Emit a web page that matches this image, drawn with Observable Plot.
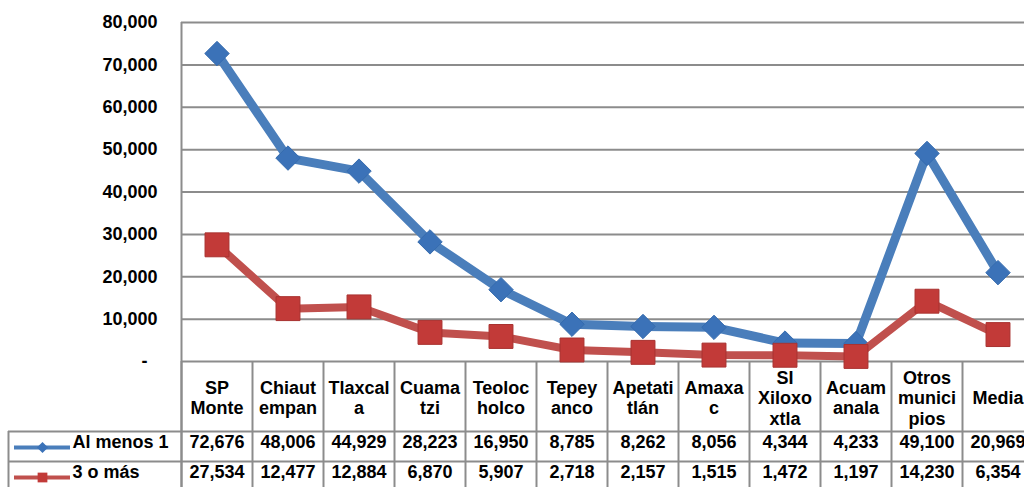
<!DOCTYPE html>
<html>
<head>
<meta charset="utf-8">
<script src="https://cdn.jsdelivr.net/npm/d3@7"></script>
<script src="https://cdn.jsdelivr.net/npm/@observablehq/plot@0.6"></script>
<style>
  html, body { margin: 0; padding: 0; background: #fff; overflow: hidden; }
  #chart { width: 1024px; height: 487px; overflow: hidden; }
</style>
</head>
<body>
<div id="chart"></div>
<script>
// ---- data ----
const categories = ["SP Monte", "Chiautempan", "Tlaxcala", "Cuamatzi", "Teolocholco", "Tepeyanco",
  "Apetatitlán", "Amaxac", "SI Xiloxoxtla", "Acuamanala", "Otros municipios", "Media"];
const headerLabels = ["SP\nMonte", "Chiaut\nempan", "Tlaxcal\na", "Cuama\ntzi", "Teoloc\nholco", "Tepey\nanco",
  "Apetati\ntlán", "Amaxa\nc", "SI\nXiloxo\nxtla", "Acuam\nanala", "Otros\nmunici\npios", "Media"];
const seriesNames = ["Al menos 1", "3 o más"];
const alMenos1 = [72676, 48006, 44929, 28223, 16950, 8785, 8262, 8056, 4344, 4233, 49100, 20969];
const tresOMas = [27534, 12477, 12884, 6870, 5907, 2718, 2157, 1515, 1472, 1197, 14230, 6354];
const yTicks = [0, 10000, 20000, 30000, 40000, 50000, 60000, 70000, 80000];

// ---- styling / layout ----
const blue = "#4a7ebb", blueMark = "#3b72b8";
const red = "#c0504d", redMark = "#c23a38";
const grid = "#8c8c8c";
const font = "'Liberation Sans', Arial, sans-serif";
const fmt = d3.format(",");
const yFmt = d => d === 0 ? "-\u00a0\u00a0" : fmt(d);

const W = 1034, H = 487, mL = 181, mR = 1, mT = 22, mB = 126;
const frameH = H - mT - mB;
const bw = (W - mL - mR) / categories.length;
const half = bw / 2;

const rows1 = categories.map((c, i) => ({cat: c, v: alMenos1[i]}));
const rows2 = categories.map((c, i) => ({cat: c, v: tresOMas[i]}));

const txt = {fontFamily: font, fontWeight: "bold", fontSize: 18, fill: "#000"};

const chart = Plot.plot({
  width: W, height: H,
  marginLeft: mL, marginRight: mR, marginTop: mT, marginBottom: mB,
  style: {maxWidth: "none", background: "#fff", overflow: "visible", fontFamily: font},
  x: {type: "band", domain: categories, padding: 0, axis: null},
  y: {domain: [0, 80000], axis: null},
  marks: [
    // horizontal gridlines
    Plot.ruleY(yTicks, {stroke: grid, strokeWidth: 2}),
    // y tick labels
    Plot.text(yTicks, {y: d => d, text: yFmt, frameAnchor: "left", textAnchor: "end", dx: -24, ...txt}),
    // table: vertical column lines (below the plot frame)
    Plot.ruleX(categories, {x: d => d, dx: -half, insetTop: frameH, insetBottom: -130, stroke: grid, strokeWidth: 2}),
    // left frame border, extended through table
    Plot.ruleX([categories[0]], {x: d => d, dx: -half, insetBottom: -130, stroke: grid, strokeWidth: 2}),
    // legend cell left border
    Plot.ruleX([categories[0]], {x: d => d, dx: -half - 173, insetTop: frameH + 70, insetBottom: -130, stroke: grid, strokeWidth: 2}),
    // table row lines
    Plot.ruleY([0], {dy: 70, insetLeft: -173, stroke: grid, strokeWidth: 2}),
    Plot.ruleY([0], {dy: 100, insetLeft: -173, stroke: grid, strokeWidth: 2}),
    // series lines
    Plot.line(rows1, {x: "cat", y: "v", stroke: blue, strokeWidth: 9, strokeLinejoin: "round"}),
    Plot.dot(rows1, {x: "cat", y: "v", symbol: "diamond2", r: 11, fill: blueMark, stroke: "#356bae", strokeWidth: 1, ariaLabel: "blue-markers"}),
    Plot.line(rows2, {x: "cat", y: "v", stroke: red, strokeWidth: 8, strokeLinejoin: "round"}),
    Plot.dot(rows2, {x: "cat", y: "v", symbol: "square", r: 13.5, fill: redMark, stroke: "#a93230", strokeWidth: 1, ariaLabel: "red-markers"}),
    // table header (category labels)
    Plot.text(categories, {x: d => d, text: (d, i) => headerLabels[i], frameAnchor: "bottom", lineAnchor: "middle", lineHeight: 1.14, dy: 36, ...txt}),
    // table values
    Plot.text(rows1, {x: "cat", text: d => fmt(d.v), frameAnchor: "bottom", dy: 86, ...txt}),
    Plot.text(rows2, {x: "cat", text: d => fmt(d.v), frameAnchor: "bottom", dy: 116, ...txt}),
    // legend keys
    Plot.ruleY([0], {dy: 86, insetLeft: -167, insetRight: W - mR - 70, stroke: blue, strokeWidth: 4}),
    Plot.dot([seriesNames[0]], {frameAnchor: "bottom-left", dx: 42 - mL, dy: 86, symbol: "diamond2", r: 5, fill: blueMark}),
    Plot.text([seriesNames[0]], {text: d => d, frameAnchor: "bottom-left", textAnchor: "start", dx: 72 - mL, dy: 86, ...txt}),
    Plot.ruleY([0], {dy: 116, insetLeft: -167, insetRight: W - mR - 70, stroke: red, strokeWidth: 4}),
    Plot.dot([seriesNames[1]], {frameAnchor: "bottom-left", dx: 42 - mL, dy: 116, symbol: "square", r: 5.5, fill: redMark}),
    Plot.text([seriesNames[1]], {text: d => d, frameAnchor: "bottom-left", textAnchor: "start", dx: 72 - mL, dy: 116, ...txt})
  ]
});

// subtle bevel-like gradients on the big markers (Excel style)
const svg = d3.select(chart);
const defs = svg.insert("defs", ":first-child");
function grad(id, top, bottom) {
  const g = defs.append("linearGradient").attr("id", id).attr("x1", 0).attr("y1", 0).attr("x2", 0).attr("y2", 1);
  g.append("stop").attr("offset", "0%").attr("stop-color", top);
  g.append("stop").attr("offset", "100%").attr("stop-color", bottom);
}
grad("gBlue", "#4a86cc", "#2f64a6");
grad("gRed", "#d24c49", "#a52e2b");
svg.selectAll("g[aria-label='blue-markers'] path").attr("fill", "url(#gBlue)");
svg.selectAll("g[aria-label='red-markers'] path").attr("fill", "url(#gRed)");

document.getElementById("chart").appendChild(chart);
</script>
</body>
</html>
